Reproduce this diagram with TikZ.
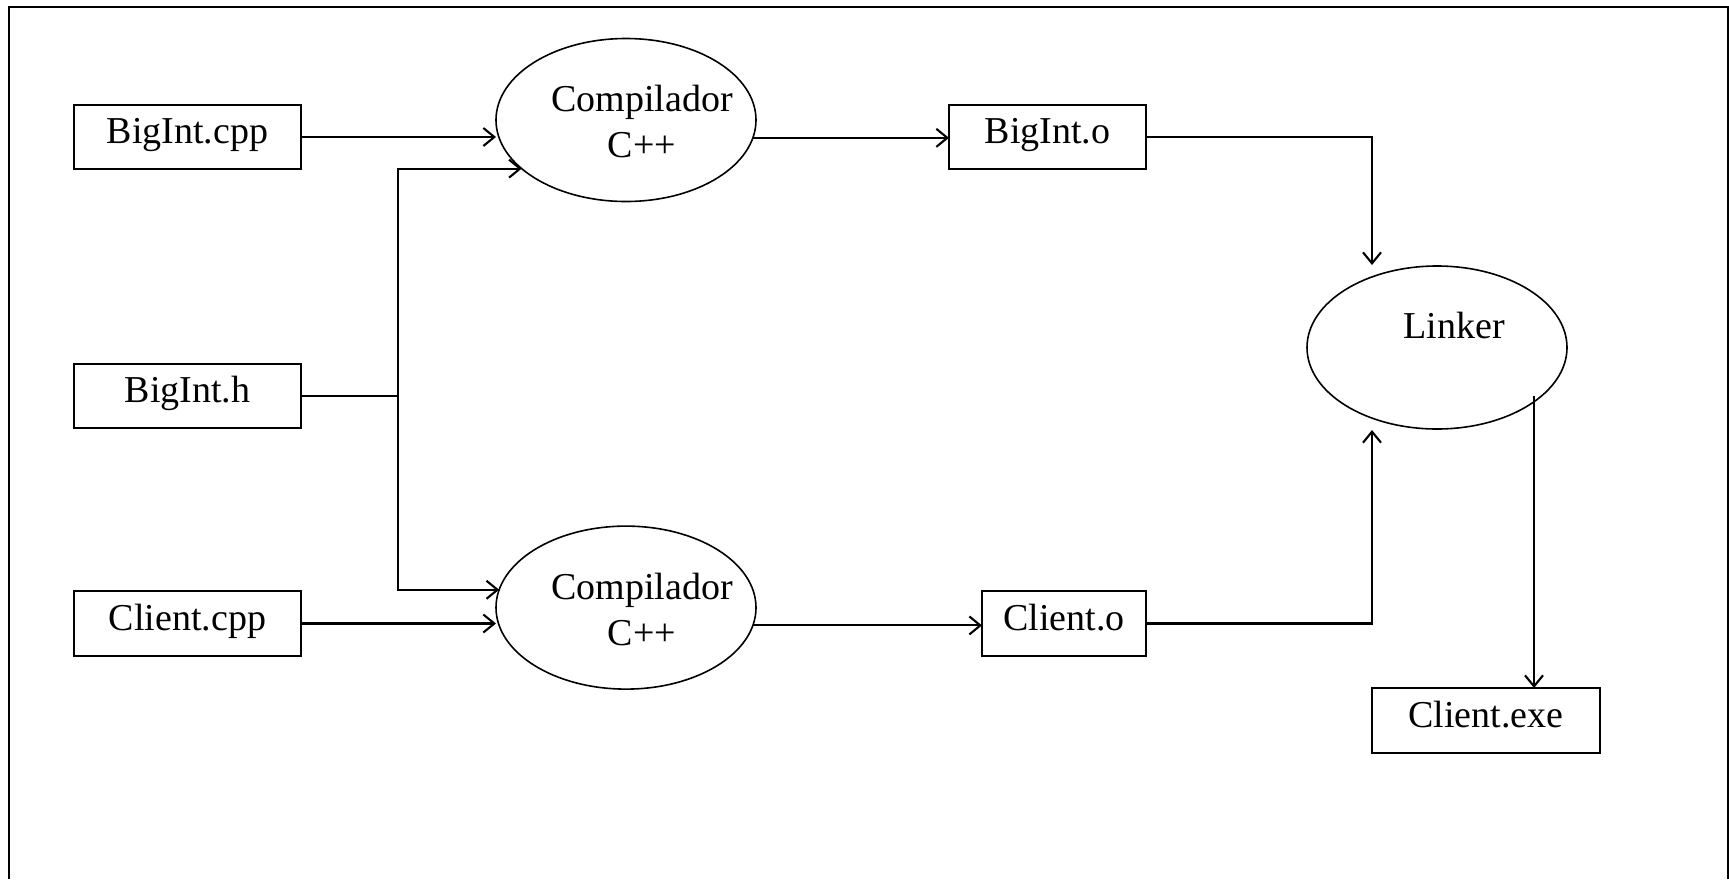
\documentclass[tikz,border=0pt]{standalone}
\usepackage{fontspec}
\setmainfont{Liberation Serif}
\usetikzlibrary{arrows.meta,shapes.geometric}
\begin{document}
\begin{tikzpicture}[x=1pt,y=-1pt,
  txt/.style={font=\fontsize{38}{46}\selectfont},
  filebox/.style={draw,line width=1.8pt,rectangle,inner sep=0pt,outer sep=0pt,txt,text height=26pt,text depth=13pt},
  proc/.style={draw,line width=1.6pt,ellipse,inner sep=0pt,outer sep=0pt,minimum width=260pt,minimum height=163pt},
  arr/.style={line width=2.1pt,-{Straight Barb[length=11pt,width=18pt,line width=2.1pt]}},
  plain/.style={line width=2.1pt}]
\useasboundingbox (0,0) rectangle (1729,879);
\draw[line width=2pt] (9,879) -- (9,7) -- (1728,7) -- (1728,879);
% files
\node[filebox,minimum width=227pt,minimum height=64pt] (bcpp) at (187.5,137) {BigInt.cpp};
\node[filebox,minimum width=227pt,minimum height=64pt] (bh) at (187.5,396) {BigInt.h};
\node[filebox,minimum width=227pt,minimum height=65pt] (ccpp) at (187.5,623.5) {Client.cpp};
\node[filebox,minimum width=197pt,minimum height=64pt] (bo) at (1047.5,137) {BigInt.o};
\node[filebox,minimum width=164pt,minimum height=65pt] (co) at (1064,623.5) {Client.o};
\node[filebox,minimum width=228pt,minimum height=65pt] (ce) at (1486,720.5) {Client.exe};
% processes
\node[proc] (comp1) at (626,120) {};
\node[txt,align=center] (comp1t) at (642,121) {Compilador\\C++};
\node[proc] (comp2) at (626,607.6) {};
\node[txt,align=center] (comp2t) at (642,609) {Compilador\\C++};
\node[proc] (link) at (1437,347.5) {};
\node[txt] (linkt) at (1454,325) {Linker};
% junction and free ends
\coordinate (j) at (398,396);
\coordinate (li1) at (1372,265);
\coordinate (li2) at (1372,430);
\coordinate (lo) at (1534,396);
% connectors
\draw[arr] (bcpp.east) -- (bcpp.east -| comp1.west);
\draw[plain] (bh.east) -- (j);
\draw[arr] (j) |- (comp1.205);
\draw[arr] (j) |- (comp2.172.5);
\draw[arr] (ccpp.east) -- (ccpp.east -| comp2.west);
\draw[arr] (comp1.352.4) -- (comp1.352.4 -| bo.west);
\draw[arr] (comp2.352.8) -- (comp2.352.8 -| co.west);
\draw[arr] (bo.east) -| (li1);
\draw[arr] (co.east) -| (li2);
\draw[arr] (lo) -- (lo |- ce.north);
\end{tikzpicture}
\end{document}
